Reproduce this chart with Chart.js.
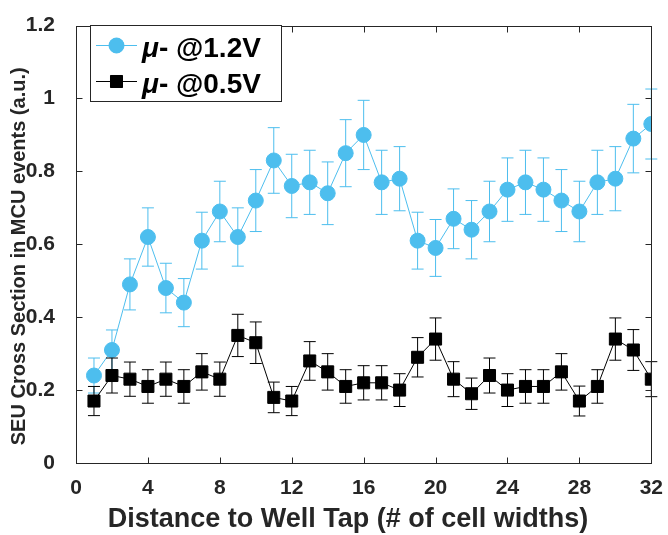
<!DOCTYPE html>
<html><head><meta charset="utf-8">
<script src="https://cdn.jsdelivr.net/npm/chart.js@4.4.1/dist/chart.umd.min.js"></script>
<style>html,body{margin:0;padding:0;background:#fff;}#wrap{width:668px;height:535px;position:relative;}</style>
</head><body><div id="wrap"><canvas id="c" width="668" height="535"></canvas></div>
<script>
const distances = [1,2,3,4,5,6,7,8,9,10,11,12,13,14,15,16,17,18,19,20,21,22,23,24,25,26,27,28,29,30,31,32];
const xTicks = [0,4,8,12,16,20,24,28,32];
const yTicks = [0,0.2,0.4,0.6,0.8,1,1.2];
const seu12 = [0.24,0.31,0.49,0.62,0.48,0.44,0.61,0.69,0.62,0.72,0.83,0.76,0.77,0.74,0.85,0.90,0.77,0.78,0.61,0.59,0.67,0.64,0.69,0.75,0.77,0.75,0.72,0.69,0.77,0.78,0.89,0.93];
const err12 = [0.048,0.055,0.07,0.08,0.068,0.066,0.078,0.083,0.08,0.085,0.09,0.087,0.088,0.086,0.092,0.095,0.088,0.088,0.078,0.078,0.082,0.08,0.083,0.087,0.088,0.087,0.085,0.083,0.088,0.088,0.094,0.096];
const seu05 = [0.17,0.24,0.23,0.21,0.23,0.21,0.25,0.23,0.35,0.33,0.18,0.17,0.28,0.25,0.21,0.22,0.22,0.20,0.29,0.34,0.23,0.19,0.24,0.20,0.21,0.21,0.25,0.17,0.21,0.34,0.31,0.23];
const err05 = [0.04,0.048,0.047,0.046,0.047,0.046,0.05,0.047,0.058,0.057,0.042,0.04,0.053,0.05,0.046,0.047,0.047,0.045,0.054,0.058,0.048,0.043,0.048,0.045,0.046,0.046,0.05,0.041,0.046,0.058,0.056,0.048];
const seriesNames = ['@0.5V','@1.2V'];
const xTitle = 'Distance to Well Tap (# of cell widths)';
const yTitle = 'SEU Cross Section in MCU events (a.u.)';

const BLUE = '#4DBEEE';
const AX = '#262626';
const FONT = '"Liberation Sans", Arial, Helvetica, sans-serif';

const errs = [err05, err12];
const errColors = ['#000000', BLUE];

const framePlugin = {
  id: 'frame',
  beforeDatasetDraw(chart, args) {
    const ds = chart.data.datasets[args.index];
    const e = errs[args.index];
    const xs = chart.scales.x, ys = chart.scales.y;
    const ctx = chart.ctx;
    ctx.save();
    ctx.strokeStyle = errColors[args.index];
    ctx.lineWidth = 1;
    ds.data.forEach((p, i) => {
      const x = xs.getPixelForValue(p.x);
      const yt = ys.getPixelForValue(p.y + e[i]);
      const yb = ys.getPixelForValue(p.y - e[i]);
      const c = 6;
      ctx.beginPath();
      ctx.moveTo(x, yt); ctx.lineTo(x, yb);
      ctx.moveTo(x - c, yt); ctx.lineTo(x + c, yt);
      ctx.moveTo(x - c, yb); ctx.lineTo(x + c, yb);
      ctx.stroke();
    });
    ctx.restore();
  },
  afterDraw(chart) {
    const ctx = chart.ctx;
    const a = chart.chartArea;
    const xs = chart.scales.x, ys = chart.scales.y;
    ctx.save();
    ctx.strokeStyle = AX;
    ctx.lineWidth = 1;
    const L = Math.round(a.left) + 0.5, R = Math.round(a.right) + 0.5;
    const T = Math.round(a.top) + 0.5, B = Math.round(a.bottom) + 0.5;
    ctx.strokeRect(L, T, R - L, B - T);
    const tl = 6;
    ctx.beginPath();
    xTicks.forEach(v => {
      const x = Math.round(xs.getPixelForValue(v)) + 0.5;
      ctx.moveTo(x, B); ctx.lineTo(x, B - tl);
      ctx.moveTo(x, T); ctx.lineTo(x, T + tl);
    });
    yTicks.forEach(v => {
      const y = Math.round(ys.getPixelForValue(v)) + 0.5;
      ctx.moveTo(L, y); ctx.lineTo(L + tl, y);
      ctx.moveTo(R, y); ctx.lineTo(R - tl, y);
    });
    ctx.stroke();

    // titles
    ctx.fillStyle = AX;
    ctx.font = 'bold 27px ' + FONT;
    ctx.textAlign = 'center';
    ctx.textBaseline = 'alphabetic';
    ctx.fillText(xTitle, 348, 527);
    ctx.save();
    ctx.translate(25, (a.top + a.bottom) / 2 + 12);
    ctx.rotate(-Math.PI / 2);
    ctx.font = 'bold 20px ' + FONT;
    ctx.fillText(yTitle, 0, 0);
    ctx.restore();

    // legend
    ctx.fillStyle = '#fff';
    ctx.fillRect(90.5, 25.5, 191, 76);
    ctx.strokeStyle = AX;
    ctx.strokeRect(90.5, 25.5, 191, 76);
    const entries = [
      {y: 45, color: BLUE, style: 'circle', r: 7.5, name: seriesNames[1], base: 57},
      {y: 81, color: '#000', style: 'rect', r: 8.5, name: seriesNames[0], base: 93}
    ];
    entries.forEach(en => {
      ctx.strokeStyle = en.color;
      ctx.lineWidth = 1;
      ctx.beginPath();
      ctx.moveTo(96, en.y + 0.5); ctx.lineTo(137, en.y + 0.5);
      ctx.stroke();
      ctx.fillStyle = en.color;
      Chart.helpers.drawPoint(ctx, {pointStyle: en.style, radius: en.r, borderWidth: 1}, 116.5, en.y + 0.5);
      ctx.fill();
      ctx.fillStyle = '#000';
      ctx.textAlign = 'left';
      ctx.font = 'italic bold 28px ' + FONT;
      ctx.fillText('\u03BC', 142, en.base);
      const w = ctx.measureText('\u03BC').width;
      ctx.font = 'bold 28px ' + FONT;
      ctx.fillText('- ' + en.name, 142 + w, en.base);
    });
    ctx.restore();
  }
};

new Chart(document.getElementById('c'), {
  type: 'line',
  data: {
    datasets: [
      {
        label: '\u03BC- ' + seriesNames[0],
        data: distances.map((d, i) => ({x: d, y: seu05[i]})),
        borderColor: '#000', backgroundColor: '#000',
        borderWidth: 1, pointStyle: 'rect', pointRadius: 8.5,
        pointBorderWidth: 1, pointBorderColor: '#000', pointBackgroundColor: '#000',
        tension: 0
      },
      {
        label: '\u03BC- ' + seriesNames[1],
        data: distances.map((d, i) => ({x: d, y: seu12[i]})),
        borderColor: BLUE, backgroundColor: BLUE,
        borderWidth: 1, pointStyle: 'circle', pointRadius: 7.5,
        pointBorderWidth: 1, pointBorderColor: BLUE, pointBackgroundColor: BLUE,
        tension: 0
      }
    ]
  },
  options: {
    responsive: false, animation: false, devicePixelRatio: 1,
    layout: {padding: {top: 12, right: 11, left: 0, bottom: 0}},
    plugins: {legend: {display: false}, tooltip: {enabled: false}},
    scales: {
      x: {
        type: 'linear', min: 0, max: 32,
        afterBuildTicks: s => { s.ticks = xTicks.map(v => ({value: v})); },
        afterFit: s => { s.height = 72; },
        grid: {display: false}, border: {display: false},
        ticks: {color: AX, padding: 5, maxRotation: 0, font: {family: FONT, weight: 'bold', size: 21}}
      },
      y: {
        type: 'linear', min: 0, max: 1.2,
        afterBuildTicks: s => { s.ticks = yTicks.map(v => ({value: v})); },
        afterFit: s => { s.width = 76; },
        grid: {display: false}, border: {display: false},
        ticks: {color: AX, padding: 13, font: {family: FONT, weight: 'bold', size: 21},
          callback: v => String(+Number(v).toFixed(1))}
      }
    }
  },
  plugins: [framePlugin]
});
</script></body></html>
